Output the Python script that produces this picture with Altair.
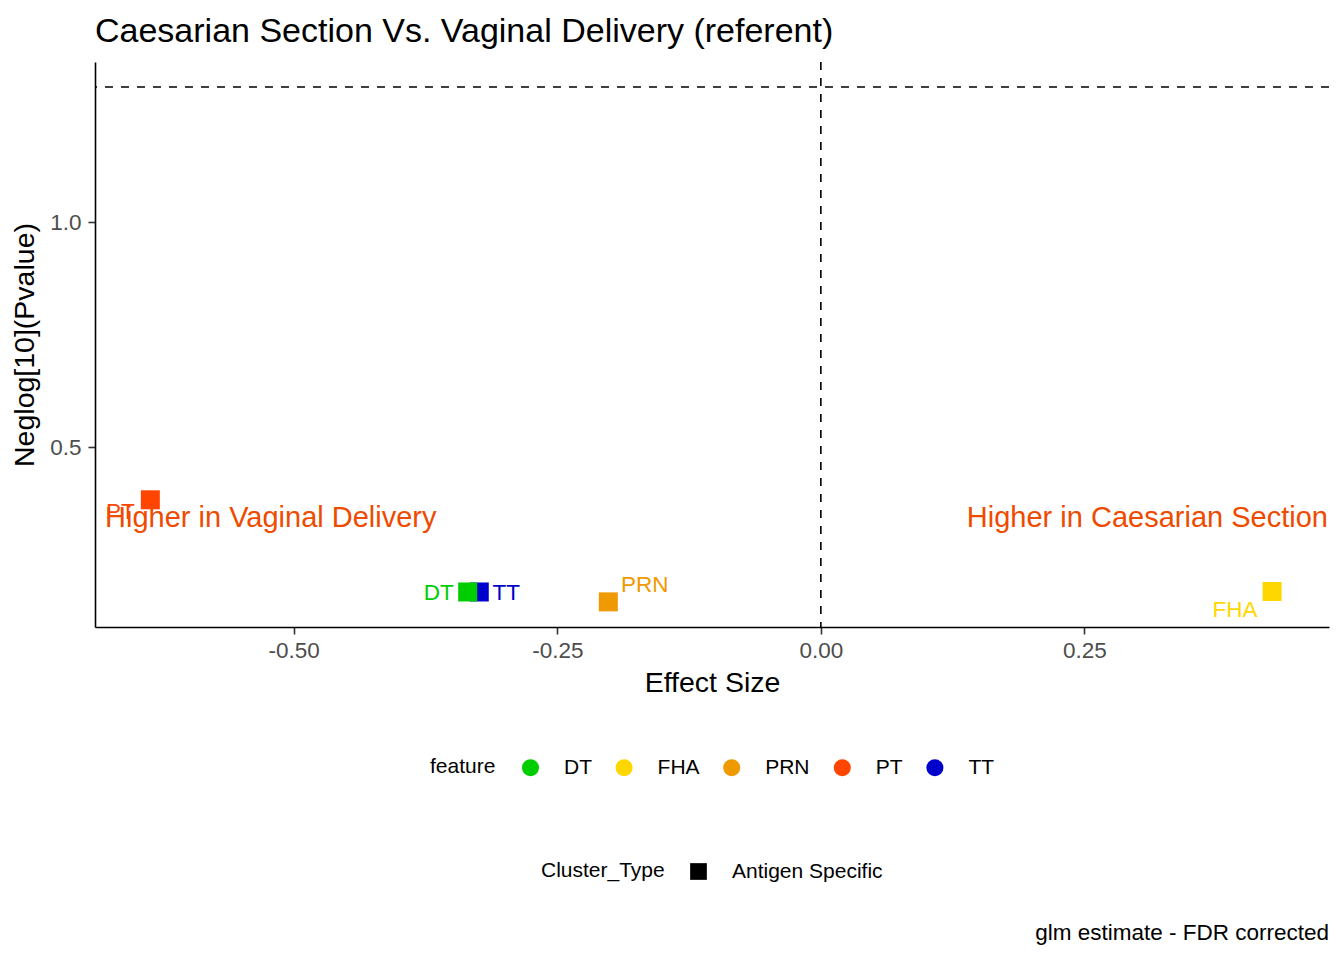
import altair as alt
import pandas as pd

# ---- data ----
features = ["TT", "DT", "FHA", "PRN", "PT"]          # row order = drawing order
effect_size = [-0.324, -0.335, 0.428, -0.2016, -0.636]
neglog_p = [0.178, 0.178, 0.179, 0.156, 0.383]
cluster_type = ["Antigen Specific"] * 5

legend_order = ["DT", "FHA", "PRN", "PT", "TT"]
palette = ["#00CD00", "#FFD700", "#EE9A00", "#FF4500", "#0000CD"]

sig_line = [1.30103]   # -log10(0.05)
zero_line = [0.0]
x_ticks = [-0.5, -0.25, 0.0, 0.25]
y_ticks = [0.5, 1.0]

ann_text = ["Higher in Vaginal Delivery", "Higher in Caesarian Section"]
ann_x = [-0.679, 0.481]
ann_y = [0.342, 0.342]

title_text = "Caesarian Section Vs. Vaginal Delivery (referent)"
caption_text = "glm estimate - FDR corrected"

FONT = "Liberation Sans"
W, H = 1234, 565

df = pd.DataFrame({
    "feature": features,
    "effect": effect_size,
    "neglog": neglog_p,
    "Cluster_Type": cluster_type,
})
ann_df = pd.DataFrame({"text": ann_text, "x": ann_x, "y": ann_y})

xscale = alt.Scale(domain=[-0.6885, 0.482], nice=False, zero=False)
yscale = alt.Scale(domain=[0.1001, 1.3567], nice=False, zero=False)

x_axis = alt.Axis(
    values=x_ticks,
    labelExpr="(datum.value < 0 ? '-' : '') + format(abs(datum.value), '.2f')",
    grid=False, domainColor="black", domainWidth=1.6,
    tickColor="#333333", tickWidth=1.6, tickSize=7,
    labelColor="#4D4D4D", labelFontSize=22.5, labelPadding=5, labelFont=FONT,
    titleFontSize=28.5, titleColor="black", titleFontWeight="normal",
    titleFont=FONT, titlePadding=7,
)
y_axis = alt.Axis(
    values=y_ticks, format=".1f",
    grid=False, domainColor="black", domainWidth=1.6,
    tickColor="#333333", tickWidth=1.6, tickSize=7,
    labelColor="#4D4D4D", labelFontSize=22.5, labelPadding=7, labelFont=FONT,
    titleFontSize=28.5, titleColor="black", titleFontWeight="normal",
    titleFont=FONT, titlePadding=10,
)

base = alt.Chart(df)

hline = alt.Chart(pd.DataFrame({"y": sig_line})).mark_rule(
    color="black", strokeWidth=1.6, strokeDash=[8, 8]
).encode(y=alt.Y("y:Q", scale=yscale))

vline = alt.Chart(pd.DataFrame({"x": zero_line})).mark_rule(
    color="black", strokeWidth=1.6, strokeDash=[8, 8]
).encode(x=alt.X("x:Q", scale=xscale))

points = base.mark_point(filled=True, opacity=1, size=361, strokeWidth=0).encode(
    x=alt.X("effect:Q", scale=xscale, axis=x_axis, title="Effect Size"),
    y=alt.Y("neglog:Q", scale=yscale, axis=y_axis, title="Neglog[10](Pvalue)"),
    color=alt.Color(
        "feature:N",
        scale=alt.Scale(domain=legend_order, range=palette),
        legend=alt.Legend(
            title="feature", orient="none", direction="horizontal", columns=5,
            legendX=335, legendY=695,
            titleOrient="left", titleAnchor="middle", titleBaseline="middle",
            titleFontSize=21, titleFont=FONT, titleFontWeight="normal",
            titleColor="black", titlePadding=24,
            labelFontSize=21, labelFont=FONT, labelColor="black",
            labelOffset=23, columnPadding=21.6,
            symbolType="circle", symbolSize=290, symbolStrokeWidth=0,
        ),
    ),
    shape=alt.Shape(
        "Cluster_Type:N",
        scale=alt.Scale(range=["square"]),
        legend=alt.Legend(
            title="Cluster_Type", orient="none", direction="horizontal",
            legendX=446, legendY=799,
            titleOrient="left", titleAnchor="middle", titleBaseline="middle",
            titleFontSize=21, titleFont=FONT, titleFontWeight="normal",
            titleColor="black", titlePadding=23,
            labelFontSize=21, labelFont=FONT, labelColor="black",
            labelOffset=23,
            symbolSize=279, symbolFillColor="black", symbolStrokeColor="black",
            symbolStrokeWidth=0,
        ),
    ),
)

# point labels (repelled positions as pixel offsets)
label_offsets = {"PT": (-30, 12.5), "DT": (-29, 1.3), "TT": (27, 1.3),
                 "PRN": (36.5, -16.7), "FHA": (-37, 18.4)}
label_layers = []
for f in legend_order:
    dx, dy = label_offsets[f]
    label_layers.append(
        base.transform_filter(alt.datum.feature == f).mark_text(
            fontSize=22.5, font=FONT, dx=dx, dy=dy, align="center", baseline="middle"
        ).encode(
            x=alt.X("effect:Q", scale=xscale),
            y=alt.Y("neglog:Q", scale=yscale),
            text="feature:N",
            color=alt.Color("feature:N", scale=alt.Scale(domain=legend_order, range=palette), legend=None),
        )
    )

ann_left = alt.Chart(ann_df).transform_filter(alt.datum.x < 0).mark_text(
    fontSize=29, font=FONT, align="left", baseline="middle", color="#EE4B00"
).encode(x=alt.X("x:Q", scale=xscale), y=alt.Y("y:Q", scale=yscale), text="text:N")

ann_right = alt.Chart(ann_df).transform_filter(alt.datum.x > 0).mark_text(
    fontSize=29, font=FONT, align="right", baseline="middle", color="#EE4B00"
).encode(x=alt.X("x:Q", scale=xscale), y=alt.Y("y:Q", scale=yscale), text="text:N")

caption = alt.Chart(pd.DataFrame({"t": [caption_text]})).mark_text(
    fontSize=22.5, font=FONT, align="right", baseline="middle", color="black"
).encode(x=alt.value(W), y=alt.value(871), text="t:N")

chart = alt.layer(
    hline, vline, points, *label_layers, ann_left, ann_right, caption
).properties(
    width=W, height=H,
    background="white",
    title=alt.TitleParams(
        title_text, anchor="start", frame="group", fontSize=34, font=FONT,
        fontWeight="normal", color="black", offset=12,
    ),
    autosize=alt.AutoSizeParams(type="none"),
    padding={"left": 87, "top": 54, "right": 5, "bottom": 318},
).configure_view(stroke=None)

chart.save("out.html", embed_options={"renderer": "svg", "actions": False})
